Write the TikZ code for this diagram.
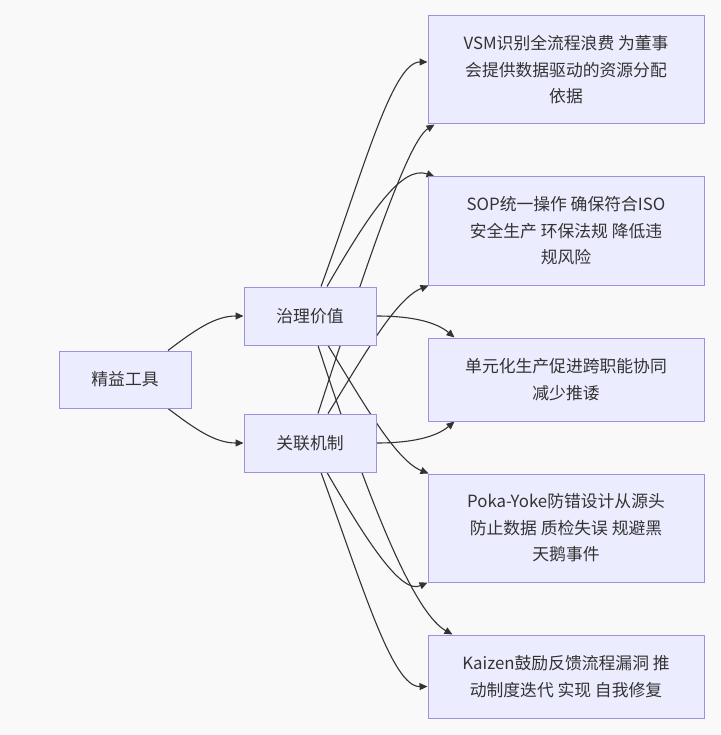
\documentclass[tikz,border=0pt]{standalone}
\usepackage{fontspec}
\setmainfont{Noto Sans CJK SC}
\usetikzlibrary{arrows.meta,calc}
\pgfdeclarelayer{back}
\pgfdeclarelayer{edges}
\pgfsetlayers{back,edges,main}
\definecolor{boxfill}{HTML}{ECECFF}
\definecolor{boxline}{HTML}{A08FDC}
\definecolor{ink}{HTML}{333333}
\definecolor{paper}{HTML}{F9F9F9}
\tikzset{
  box/.style={draw=boxline, fill=boxfill, line width=1pt, text=ink, align=center,
    font=\fontsize{16.8}{26.5}\selectfont, inner sep=0pt},
  conn/.style={draw=ink, line width=1.1pt, -{Triangle[length=8pt,width=7pt]}},
}
\begin{document}
\begin{tikzpicture}[x=1pt,y=-1pt]
\useasboundingbox (0,0) rectangle (720,735);
\begin{pgfonlayer}{back}
\fill[paper] (0,0) rectangle (720,735);
\end{pgfonlayer}

\node[box, minimum width=132pt, minimum height=57pt] (jy) at (125,379.5) {精益工具};
\node[box, minimum width=132pt, minimum height=58pt] (zl) at (310,316) {治理价值};
\node[box, minimum width=132pt, minimum height=58pt] (gl) at (310,443) {关联机制};

\node[box, minimum width=276pt, minimum height=108pt] (b1) at (566,70)
  {VSM识别全流程浪费 为董事\\会提供数据驱动的资源分配\\依据};
\node[box, minimum width=276pt, minimum height=108pt] (b2) at (566,231)
  {SOP统一操作 确保符合ISO\\安全生产 环保法规 降低违\\规风险};
\node[box, minimum width=276pt, minimum height=83pt] (b3) at (566,379.5)
  {单元化生产促进跨职能协同\\减少推诿};
\node[box, minimum width=276pt, minimum height=108pt] (b4) at (566,528)
  {Poka-Yoke防错设计从源头\\防止数据 质检失误 规避黑\\天鹅事件};
\node[box, minimum width=276pt, minimum height=83pt] (b5) at (566,676.5)
  {Kaizen鼓励反馈流程漏洞 推\\动制度迭代 实现 自我修复};

\begin{pgfonlayer}{edges}
% left
\draw[conn] ($(jy.north)+(43,0)$) .. controls (195,330) and (215,316) .. (zl.west);
\draw[conn] ($(jy.south)+(43,0)$) .. controls (195,429) and (215,443) .. (gl.west);
% from 治理价值
\draw[conn] ($(zl.north)+(11,0)$) .. controls (362,175) and (392,62) .. ($(b1.west)+(0,-8)$);
\draw[conn] ($(zl.north)+(17,0)$) .. controls (370,212) and (402,165) .. ($(b2.north west)+(7,0)$);
\draw[conn] (zl.east) .. controls (412,316) and (436,322) .. ($(b3.north west)+(27,0)$);
\draw[conn] ($(zl.south)+(18,0)$) .. controls (362,400) and (395,460) .. ($(b4.north west)+(1,0)$);
\draw[conn] ($(zl.south)+(8,0)$) .. controls (378,530) and (418,615) .. ($(b5.north west)+(25,0)$);
% from 关联机制
\draw[conn] ($(gl.north)+(8,0)$) .. controls (376,234) and (410,140) .. ($(b1.south west)+(7,0)$);
\draw[conn] ($(gl.north)+(18,0)$) .. controls (362,359) and (395,299) .. ($(b2.south west)+(1,0)$);
\draw[conn] (gl.east) .. controls (412,443) and (436,437) .. ($(b3.south west)+(27,0)$);
\draw[conn] ($(gl.south)+(17,0)$) .. controls (370,547) and (402,594) .. ($(b4.south west)+(0,0)$);
\draw[conn] ($(gl.south)+(11,0)$) .. controls (362,584) and (392,687) .. ($(b5.west)+(0,10)$);
\end{pgfonlayer}
\end{tikzpicture}
\end{document}
